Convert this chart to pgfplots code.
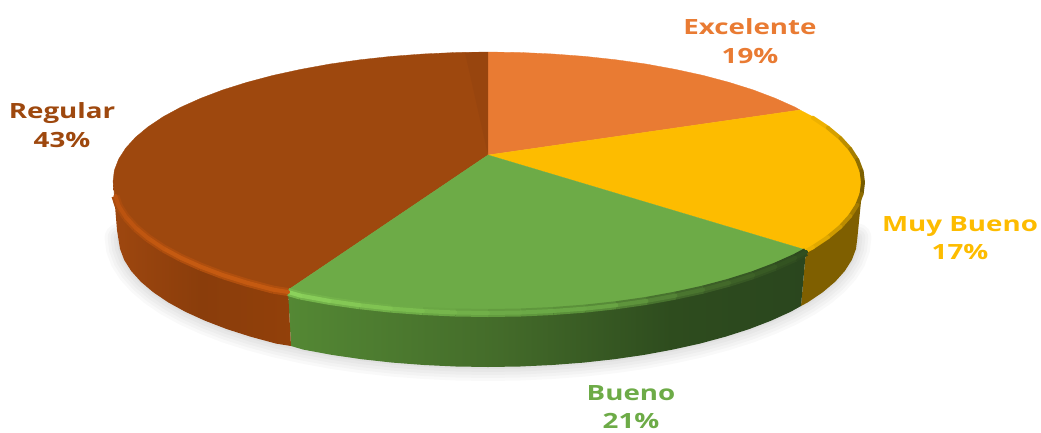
\documentclass[border=0pt]{standalone}
\usepackage{fontspec}
\setmainfont[FakeStretch=1.32,BoldFont={Open Sans Bold}]{Open Sans}
\usepackage{pgfplots}
\usepackage{pgfplotstable}
\pgfplotsset{compat=1.18}

\definecolor{cExc}{HTML}{E97B33}
\definecolor{cMuy}{HTML}{FDBC00}
\definecolor{cBue}{HTML}{6DAB47}
\definecolor{cReg}{HTML}{9E480E}

% wall gradients, stops between 25bp and 75bp span the path
\pgfdeclarehorizontalshading{wallgreen}{100bp}{
  color(0bp)=(rgb,255:red,84;green,136;blue,52);
  color(25bp)=(rgb,255:red,84;green,136;blue,52);
  color(45bp)=(rgb,255:red,68;green,108;blue,42);
  color(62bp)=(rgb,255:red,46;green,76;blue,30);
  color(75bp)=(rgb,255:red,42;green,70;blue,30);
  color(100bp)=(rgb,255:red,42;green,70;blue,30)}
\pgfdeclarehorizontalshading{wallbrown}{100bp}{
  color(0bp)=(rgb,255:red,158;green,71;blue,15);
  color(25bp)=(rgb,255:red,158;green,71;blue,15);
  color(50bp)=(rgb,255:red,138;green,61;blue,11);
  color(75bp)=(rgb,255:red,146;green,64;blue,10);
  color(100bp)=(rgb,255:red,146;green,64;blue,10)}

% bottom edge of the wall, used for the soft shadow
\pgfplotstableread{
x y
857.4 237.5
856 248.8
851.8 260
844.8 271
835.1 281.8
822.8 292.2
807.9 302.3
790.6 311.8
771 320.7
749.2 329.1
725.4 336.7
699.9 343.6
672.7 349.6
644.1 354.9
614.4 359.2
583.6 362.6
552.1 365
520.2 366.5
488 367
455.8 366.5
423.9 365
392.4 362.6
361.6 359.2
331.9 354.9
303.3 349.6
276.1 343.6
250.6 336.7
226.8 329.1
205 320.7
185.4 311.8
168.1 302.3
153.2 292.2
140.9 281.8
131.2 271
124.2 260
120 248.8
118.6 237.5
}\wallbottom

% front rim, one table for each slice
\pgfplotstableread{
x y
812.8 116.7
827.9 126.8
840.4 137.2
850.2 148
857.3 159
861.6 170.2
863 181.5
861.6 192.8
857.3 204
850.2 215
840.4 225.8
827.9 236.2
812.8 246.3
806 250
}\rimyellow
\pgfplotstableread{
x y
806 250
795.2 255.8
775.3 264.7
753.2 273.1
729 280.7
703.1 287.6
675.5 293.6
646.5 298.9
616.3 303.2
585.1 306.6
553.1 309
520.7 310.5
488 311
455.3 310.5
422.9 309
390.9 306.6
359.7 303.2
329.5 298.9
300.5 293.6
288 290
}\rimgreen
\pgfplotstableread{
x y
288 290
272.9 287.6
247 280.7
222.8 273.1
200.7 264.7
180.8 255.8
163.2 246.3
148.1 236.2
135.6 225.8
125.8 215
118.7 204
115.4 194
}\rimbrown

\pgfplotsset{
  colormap={edgeyellow}{rgb255=(250,185,0) rgb255=(170,130,0) rgb255=(110,85,0) rgb255=(180,135,0) rgb255=(240,180,0)},
  colormap={edgegreen}{rgb255=(140,210,92) rgb255=(126,192,80) rgb255=(109,171,71) rgb255=(105,165,68) rgb255=(70,110,44) rgb255=(46,76,30)},
  colormap={softgreen}{rgb255=(118,182,76) rgb255=(112,174,72) rgb255=(100,158,64) rgb255=(88,140,56) rgb255=(62,98,40) rgb255=(44,72,30)},
  colormap={edgebrown}{rgb255=(186,82,15) rgb255=(197,90,17) rgb255=(197,90,17) rgb255=(197,90,17)},
  colormap={softbrown}{rgb255=(170,76,14) rgb255=(174,78,14) rgb255=(176,79,14) rgb255=(176,79,14)},
}

\begin{document}
\begin{tikzpicture}
\begin{axis}[
  scale only axis,
  x=1pt,y=1pt,
  xmin=0,xmax=1041,ymin=0,ymax=432,
  y dir=reverse,
  hide axis,
  clip=false,
  every axis plot/.append style={forget plot},
]
\path (axis cs:0,0) rectangle (axis cs:1041,432);

% soft shadow under the pie
\addplot[draw=black,opacity=.022,line width=28pt,line cap=round] table {\wallbottom};
\addplot[draw=black,opacity=.022,line width=22pt,line cap=round] table {\wallbottom};
\addplot[draw=black,opacity=.025,line width=16pt,line cap=round] table {\wallbottom};
\addplot[draw=black,opacity=.025,line width=10pt,line cap=round] table {\wallbottom};
\addplot[draw=black,opacity=.03,line width=4pt,line cap=round] table {\wallbottom};

% walls
\addplot[draw=none,fill={rgb,255:red,127;green,95;blue,0}] coordinates {
(863,181.5) (861.6,192.8) (857.3,204) (850.2,215) (840.4,225.8) (827.9,236.2) (812.8,246.3) (806,250)
(801,306) (807.9,302.3) (822.8,292.2) (835.1,281.8) (844.8,271) (851.8,260) (856,248.8) (857.4,237.5)
} -- cycle;
\addplot[shade,shading=wallgreen,draw=none] coordinates {
(806,250) (795.2,255.8) (775.3,264.7) (753.2,273.1) (729,280.7) (703.1,287.6) (675.5,293.6) (646.5,298.9)
(616.3,303.2) (585.1,306.6) (553.1,309) (520.7,310.5) (488,311) (455.3,310.5) (422.9,309) (390.9,306.6)
(359.7,303.2) (329.5,298.9) (300.5,293.6) (288,290)
(291,346) (303.3,349.6) (331.9,354.9) (361.6,359.2) (392.4,362.6) (423.9,365) (455.8,366.5) (488,367)
(520.2,366.5) (552.1,365) (583.6,362.6) (614.4,359.2) (644.1,354.9) (672.7,349.6) (699.9,343.6) (725.4,336.7)
(749.2,329.1) (771,320.7) (790.6,311.8) (801,306)
} -- cycle;
\addplot[shade,shading=wallbrown,draw=none] coordinates {
(288,290) (272.9,287.6) (247,280.7) (222.8,273.1) (200.7,264.7) (180.8,255.8) (163.2,246.3) (148.1,236.2)
(135.6,225.8) (125.8,215) (118.7,204) (114.4,192.8) (113,181.5)
(117,230) (120,248.8) (124.2,260) (131.2,271) (140.9,281.8) (153.2,292.2) (168.1,302.3) (185.4,311.8)
(205,320.7) (226.8,329.1) (250.6,336.7) (276.1,343.6) (291,346)
} -- cycle;

% top face
\addplot[fill=cReg,draw=cReg,line width=.3pt] coordinates {
(488,155) (288,290) (272.9,287.6) (247,280.7) (222.8,273.1) (200.7,264.7) (180.8,255.8) (163.2,246.3) (148.1,236.2)
(135.6,225.8) (125.8,215) (118.7,204) (114.4,192.8) (113,181.5) (114.4,170.2) (118.7,159) (125.8,148) (135.6,137.2)
(148.1,126.8) (163.2,116.7) (180.8,107.2) (200.7,98.3) (222.8,89.9) (247,82.3) (272.9,75.4) (300.5,69.4) (329.5,64.1)
(359.7,59.8) (390.9,56.4) (422.9,54) (455.3,52.5) (488,52)
} -- cycle;
\addplot[fill=cExc,draw=cExc,line width=.3pt] coordinates {
(488,155) (488,52) (520.7,52.5) (553.1,54) (585.1,56.4) (616.3,59.8) (646.5,64.1) (675.5,69.4) (703.1,75.4) (729,82.3)
(753.2,89.9) (775.3,98.3) (795.2,107.2) (800,110)
} -- cycle;
\addplot[fill=cMuy,draw=cMuy,line width=.3pt] coordinates {
(488,155) (800,110) (812.8,116.7) (827.9,126.8) (840.4,137.2) (850.2,148) (857.3,159) (861.6,170.2) (863,181.5)
(861.6,192.8) (857.3,204) (850.2,215) (840.4,225.8) (827.9,236.2) (812.8,246.3) (806,250)
} -- cycle;
\addplot[fill=cBue,draw=cBue,line width=.3pt] coordinates {
(488,155) (806,250) (795.2,255.8) (775.3,264.7) (753.2,273.1) (729,280.7) (703.1,287.6) (675.5,293.6) (646.5,298.9)
(616.3,303.2) (585.1,306.6) (553.1,309) (520.7,310.5) (488,311) (455.3,310.5) (422.9,309) (390.9,306.6)
(359.7,303.2) (329.5,298.9) (300.5,293.6) (288,290)
} -- cycle;
% darker strip of the brown slice at the top
\addplot[fill={rgb,255:red,152;green,69;blue,14},draw=none] coordinates {(488,155) (488,52) (465,52.6)} -- cycle;

% bevel along the front rim
\addplot[mesh,colormap name=edgeyellow,point meta=y,point meta rel=per plot,line width=4pt,line cap=round,yshift=-1pt] table {\rimyellow};
\addplot[mesh,colormap name=softgreen,point meta=x,point meta rel=per plot,line width=8pt,line cap=butt,yshift=-2pt] table {\rimgreen};
\addplot[mesh,colormap name=edgegreen,point meta=x,point meta rel=per plot,line width=4pt,line cap=round,yshift=-2pt] table {\rimgreen};
\addplot[mesh,colormap name=softbrown,point meta=x,point meta rel=per plot,line width=8pt,line cap=butt,yshift=-2pt] table {\rimbrown};
\addplot[mesh,colormap name=edgebrown,point meta=x,point meta rel=per plot,line width=4pt,line cap=round,yshift=-2pt] table {\rimbrown};

% labels
\tikzset{lab/.style={font=\bfseries\fontsize{21}{28.5}\selectfont,align=center,inner sep=0pt,anchor=center}}
\node[lab,text=cExc] at (axis cs:750,41) {Excelente\\19\%};
\node[lab,text=cMuy] at (axis cs:960,238) {Muy Bueno\\17\%};
\node[lab,text=cBue] at (axis cs:631,407) {Bueno\\21\%};
\node[lab,text=cReg] at (axis cs:62,125) {Regular\\43\%};
\end{axis}
\end{tikzpicture}
\end{document}
